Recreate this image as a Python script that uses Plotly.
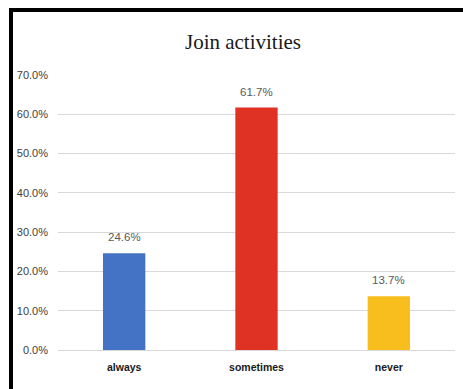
import plotly.graph_objects as go

categories = ["always", "sometimes", "never"]
values = [24.6, 61.7, 13.7]
colors = ["#4472C4", "#E03224", "#F7BE1E"]
tick_vals = [0, 10, 20, 30, 40, 50, 60, 70]
tick_text = ["0.0%", "10.0%", "20.0%", "30.0%", "40.0%", "50.0%", "60.0%", "70.0%"]
title = "Join activities"

W, H = 463, 389
L, R, T, B = 58, 8, 75, 39
pw, ph = W - L - R, H - T - B
SANS = "Liberation Sans"

def px_x(x):
    return (x - L) / pw

def px_y(y):
    return (H - B - y) / ph

fig = go.Figure(go.Bar(
    x=categories, y=values,
    marker=dict(color=colors, line=dict(width=0)),
    width=0.32,
    hoverinfo="x+y",
))

for c, v in zip(categories, values):
    fig.add_annotation(x=c, y=v, text=f"{v:.1f}%", showarrow=False,
                       yshift=16, yanchor="middle",
                       font=dict(family=SANS, size=11.5, color="#595959"))

fig.update_layout(
    width=W, height=H,
    margin=dict(l=L, r=R, t=T, b=B, autoexpand=False),
    paper_bgcolor="white", plot_bgcolor="white",
    showlegend=False,
    title=dict(text=title, x=243 / W, xanchor="center", y=1 - 42 / H, yanchor="middle",
               font=dict(family="Liberation Serif", size=21, color="#1a1a1a")),
    xaxis=dict(showgrid=False, showline=False, ticks="", automargin=False,
               ticklabelstandoff=9,
               tickfont=dict(family=SANS, size=10.5, color="#1a1a1a", weight="bold")),
    yaxis=dict(range=[0, 70], tickvals=tick_vals, ticktext=tick_text,
               showgrid=True, gridcolor="#D9D9D9", gridwidth=1,
               zeroline=True, zerolinecolor="#D9D9D9", zerolinewidth=1,
               showline=False, ticks="", ticklabelstandoff=9, automargin=False,
               tickfont=dict(family=SANS, size=11, color="#404040")),
)

fig.add_shape(type="line", xref="paper", yref="paper",
              x0=px_x(9), x1=px_x(W + 5), y0=px_y(10), y1=px_y(10),
              line=dict(color="black", width=4))
fig.add_shape(type="line", xref="paper", yref="paper",
              x0=px_x(11), x1=px_x(11), y0=px_y(8), y1=px_y(H + 5),
              line=dict(color="black", width=4))

fig.write_html("out.html", config={"displayModeBar": False},
               post_script="document.body.style.margin='0';document.body.style.overflow='hidden';")
